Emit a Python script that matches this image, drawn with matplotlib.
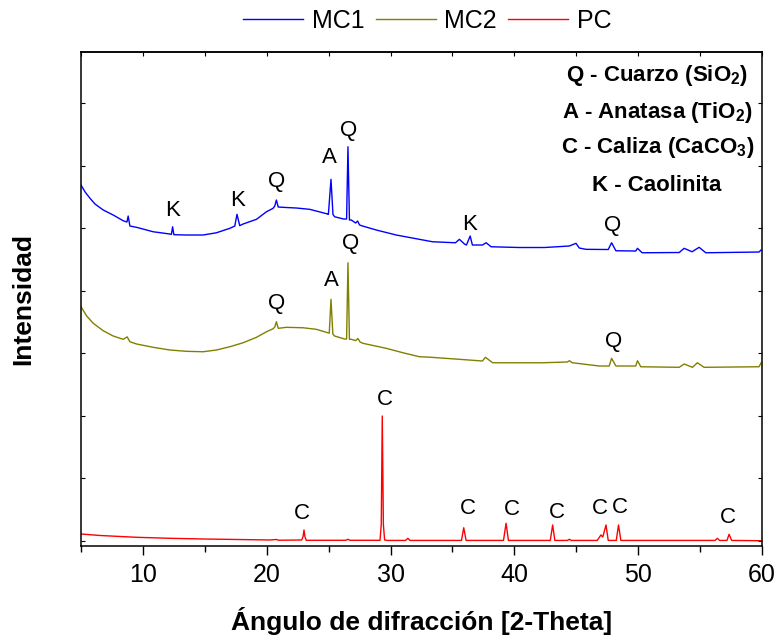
import matplotlib
matplotlib.use("Agg")
import matplotlib.pyplot as plt
from matplotlib.ticker import MultipleLocator
from matplotlib.lines import Line2D

plt.rcParams['font.family'] = ['Liberation Sans', 'DejaVu Sans']
plt.rcParams['mathtext.fontset'] = 'custom'
plt.rcParams['mathtext.rm'] = 'Liberation Sans:bold'
plt.rcParams['mathtext.it'] = 'Liberation Sans:bold'
plt.rcParams['mathtext.bf'] = 'Liberation Sans:bold'

# ---- diffraction patterns (2-theta in degrees, intensity in a.u., stacked) ----
mc1_2theta = [5.00, 5.32, 5.73, 6.13, 6.80, 7.60, 8.41, 8.71, 8.81, 8.95, 9.49, 10.83,
              12.18, 12.30, 12.40, 12.50, 13.52, 14.86, 15.94, 17.02, 17.42, 17.60, 17.82,
              18.09, 19.17, 19.98, 20.51, 20.65, 20.78, 20.93, 21.31, 22.40, 23.47, 24.54,
              24.92, 24.98, 25.19, 25.35, 25.48, 26.21, 26.45, 26.56, 26.68, 26.83, 27.18,
              27.34, 27.50, 27.74, 28.85, 30.46, 32.33, 33.39, 35.24, 35.56, 35.97, 36.13,
              36.43, 36.61, 37.42, 37.72, 38.12, 40.40, 42.42, 44.44, 44.76, 44.98, 45.24,
              45.78, 47.58, 47.85, 48.20, 49.80, 49.94, 50.32, 53.31, 53.71, 54.35, 54.92,
              55.46, 59.76, 59.92]
mc1_int = [5690, 5582, 5477, 5386, 5290, 5210, 5118, 5098, 5194, 5034, 5013, 4942,
           4906, 4900, 5022, 4895, 4890, 4890, 4926, 4997, 5034, 5221, 5040,
           5066, 5141, 5262, 5317, 5354, 5450, 5338, 5333, 5322, 5301, 5246,
           5226, 5220, 5781, 5220, 5182, 5146, 5146, 6302, 5130, 5130, 5082,
           5114, 5050, 5034, 4970, 4890, 4821, 4782, 4766, 4821, 4746, 4730,
           4874, 4730, 4730, 4766, 4702, 4690, 4690, 4714, 4740, 4757, 4682,
           4661, 4658, 4766, 4638, 4634, 4677, 4606, 4610, 4677, 4622, 4693,
           4606, 4618, 4650]

mc2_2theta = [5.00, 5.46, 5.99, 6.80, 7.60, 8.41, 8.73, 8.95, 9.49, 10.83, 12.18, 13.52,
              14.86, 15.94, 17.02, 18.09, 19.17, 19.98, 20.51, 20.65, 20.78, 20.93, 21.59,
              22.93, 24.01, 24.94, 25.05, 25.19, 25.34, 25.48, 26.29, 26.45, 26.56, 26.68,
              26.83, 27.18, 27.36, 27.54, 27.77, 29.65, 31.00, 32.34, 33.15, 35.56, 37.42,
              37.66, 38.25, 42.26, 44.27, 44.44, 44.68, 46.85, 47.66, 47.85, 48.20, 49.80,
              49.94, 50.21, 53.31, 53.71, 54.38, 54.78, 55.32, 59.76, 59.92]
mc2_int = [3742, 3594, 3477, 3358, 3274, 3221, 3260, 3182, 3146, 3093, 3050, 3029,
           3022, 3050, 3102, 3166, 3253, 3342, 3390, 3418, 3502, 3397, 3413,
           3406, 3381, 3326, 3320, 3861, 3306, 3274, 3226, 3226, 4446, 3221,
           3221, 3200, 3234, 3178, 3157, 3077, 3006, 2942, 2935, 2901, 2874,
           2933, 2846, 2846, 2858, 2878, 2846, 2794, 2794, 2917, 2794, 2794,
           2878, 2782, 2773, 2826, 2773, 2846, 2773, 2782, 2842]

pc_2theta = [5.00, 6.53, 9.49, 12.18, 14.86, 20.24, 20.78, 20.97, 22.82, 22.93, 23.01, 23.09,
             23.19, 26.37, 26.56, 26.73, 29.15, 29.25, 29.33, 29.42, 29.52, 29.76, 31.21,
             31.40, 31.57, 35.73, 35.91, 36.10, 39.12, 39.33, 39.52, 42.90, 43.09, 43.27,
             44.28, 44.44, 44.60, 46.69, 46.99, 47.14, 47.40, 47.58, 48.23, 48.41, 48.60,
             56.21, 56.39, 56.57, 57.17, 57.34, 57.55, 59.92]
pc_int = [106, 82, 53, 37, 26, 10, 18, 6, 10, 60, 170, 60,
          5, 5, 21, 5, 5, 260, 1994, 260, 10, 3, 3,
          37, 3, 3, 206, 3, 3, 277, 3, 3, 250, 3,
          3, 21, 3, 3, 90, 58, 250, 3, 3, 250, 3,
          3, 37, 3, 3, 101, 3, -2]

series_names = ['MC1', 'MC2', 'PC']
series_colors = ['#0000ff', '#808000', '#ff0000']

# phase markers: (letter, 2-theta, intensity) for each pattern
mc1_marks = [('K', 12.42, 5290), ('K', 17.64, 5450), ('Q', 20.78, 5742), ('A', 25.08, 6138),
             ('Q', 26.61, 6570), ('K', 36.37, 5066), ('Q', 47.90, 5050)]
mc2_marks = [('Q', 20.78, 3797), ('A', 25.22, 4158), ('Q', 26.75, 4757), ('Q', 48.00, 3182)]
pc_marks = [('C', 29.52, 2261), ('C', 22.80, 437), ('C', 36.23, 517), ('C', 39.78, 490),
            ('C', 43.44, 446), ('C', 46.94, 517), ('C', 48.55, 533), ('C', 57.28, 373)]

phase_key = [r'Q - Cuarzo (SiO$_2$)', r'A - Anatasa (TiO$_2$)',
             r'C - Caliza (CaCO$_3$)', 'K - Caolinita']

fig = plt.figure(figsize=(7.81, 6.40), dpi=100)
ax = fig.add_axes([0.1037, 0.1469, 0.8720, 0.7718])

patterns = [(mc1_2theta, mc1_int), (mc2_2theta, mc2_int), (pc_2theta, pc_int)]
for (tt, inten), name, col in zip(patterns, series_names, series_colors):
    ax.plot(tt, inten, color=col, lw=1.0, label=name)

for marks in (mc1_marks, mc2_marks, pc_marks):
    for letter, tt, yy in marks:
        ax.text(tt, yy, letter, ha='center', va='center', fontsize=16)

key_y = [0.9413, 0.8664, 0.7955, 0.7186]
for txt, yy in zip(phase_key, key_y):
    ax.text(0.846, yy, txt, transform=ax.transAxes, ha='center', va='baseline',
            fontsize=16, fontweight='bold')

ax.set_xlim(5, 60)
ax.set_ylim(-86, 7818)
ax.xaxis.set_major_locator(MultipleLocator(10))
ax.xaxis.set_minor_locator(MultipleLocator(5))
ax.yaxis.set_major_locator(MultipleLocator(1000))
ax.tick_params(axis='x', which='major', direction='out', length=6.5, width=1.0,
               labelsize=18, pad=6)
ax.tick_params(axis='x', which='minor', direction='out', length=4.5, width=1.0)
ax.tick_params(axis='y', direction='in', left=True, right=True, length=3, width=0.8,
               labelleft=False)

top = ax.secondary_xaxis('top')
top.xaxis.set_major_locator(MultipleLocator(5))
top.tick_params(direction='in', length=3, width=0.8, labeltop=False)

for sp in ax.spines.values():
    sp.set_linewidth(1.1)
top.spines['top'].set_linewidth(1.1)

ax.set_xlabel('Ángulo de difracción [2-Theta]', fontsize=19, fontweight='bold', labelpad=14)
ax.set_ylabel('Intensidad', fontsize=19, fontweight='bold', labelpad=33)

handles = [Line2D([], [], color=c, lw=1.0) for c in series_colors]
fig.legend(handles, series_names, loc='center', bbox_to_anchor=(0.547, 0.967), ncol=3,
           frameon=False, fontsize=18, handlelength=2.4, handletextpad=0.35,
           columnspacing=0.45, borderaxespad=0)

fig.savefig('out.png', dpi=100)
